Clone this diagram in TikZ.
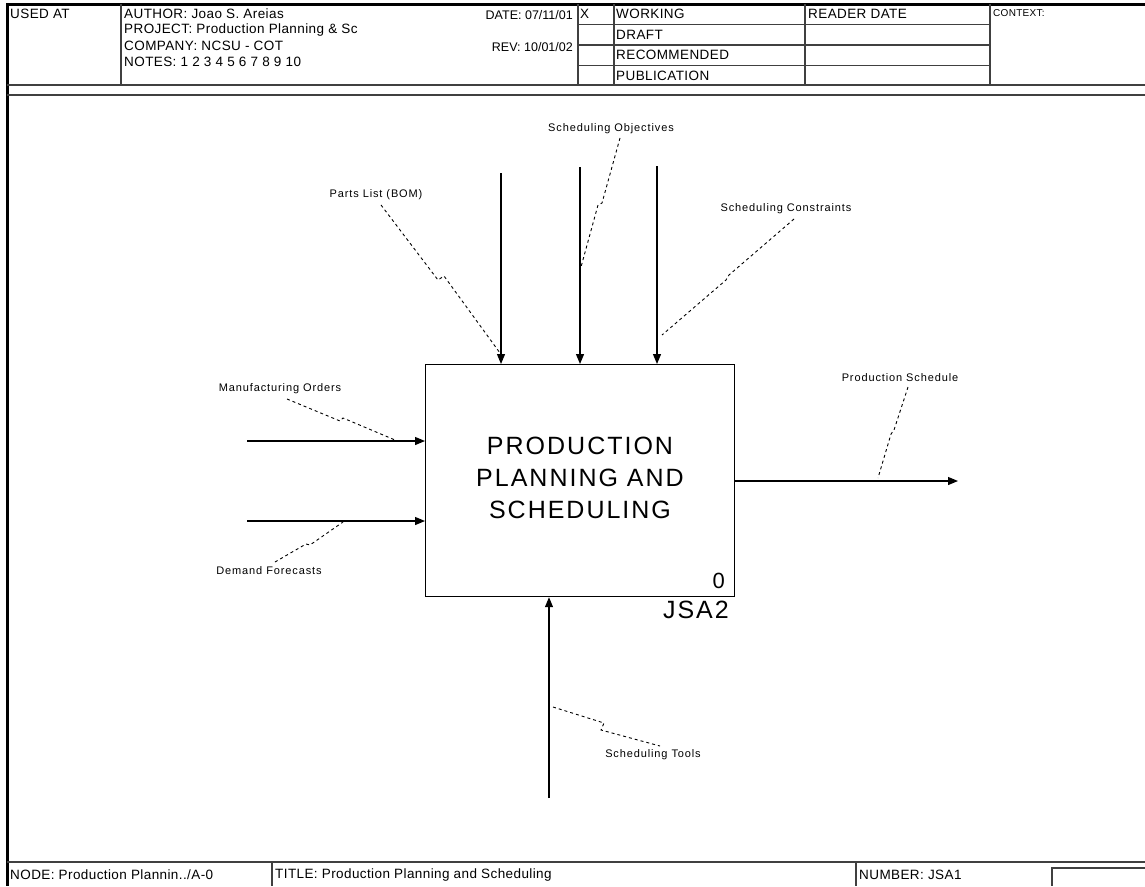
\documentclass[tikz,border=0pt]{standalone}
\usepackage{fontspec}
\setmainfont{Liberation Sans}
\newfontfamily\hdrfont[LetterSpace=3]{Liberation Sans}
\newfontfamily\lblfont[LetterSpace=8]{Liberation Sans}
\newfontfamily\bxfont[LetterSpace=8]{Liberation Sans}
\usetikzlibrary{arrows.meta}
\begin{document}
\begin{tikzpicture}[x=1pt,y=-1pt,
  hdr/.style={font=\hdrfont\fontsize{13.5}{13.5}\selectfont, anchor=west, inner sep=0pt},
  lbl/.style={font=\lblfont\fontsize{11}{11}\selectfont, inner sep=0pt},
  flow/.style={draw=black, line width=1.2pt, -{Triangle[length=10pt,width=8pt]}},
  squig/.style={draw=black, line width=0.9pt, dash pattern=on 3pt off 3pt},
  rule/.style={draw=black!75, line width=1.3pt},
  framerule/.style={draw=black, line width=3pt}]
\useasboundingbox (0,0) rectangle (1145,886);
\fill[white] (0,0) rectangle (1145,886);

% frame
\draw[framerule] (1145,4) -- (7,4) -- (7,886);

% header grid
\draw[rule] (7,85) -- (1145,85);
\draw[rule] (7,95) -- (1145,95);
\draw[rule] (121,4) -- (121,85);
\draw[rule] (578,4) -- (578,85);
\draw[rule] (614,4) -- (614,85);
\draw[rule] (805,4) -- (805,85);
\draw[rule] (990,4) -- (990,85);
\draw[rule] (578,24.5) -- (990,24.5);
\draw[rule] (578,45) -- (990,45);
\draw[rule] (578,65.5) -- (990,65.5);

% header texts
\node[hdr] (usedat) at (10,14) {USED AT};
\node[hdr] (author) at (124,14) {AUTHOR: Joao S. Areias};
\node[hdr] (project) at (124,30) {PROJECT: Production Planning \& Sc};
\node[hdr] (company) at (124,46) {COMPANY: NCSU - COT};
\node[hdr] (notes) at (124,62) {NOTES: 1 2 3 4 5 6 7 8 9 10};
\node[hdr, anchor=east, font=\setmainfont{Liberation Sans}\fontsize{12.5}{12.5}\selectfont] (date) at (573,15) {DATE: 07/11/01};
\node[hdr, anchor=east, font=\setmainfont{Liberation Sans}\fontsize{12.5}{12.5}\selectfont] (rev) at (573,47) {REV: 10/01/02};
\node[hdr] (xmark) at (580,14) {X};
\node[hdr] (working) at (616,14) {WORKING};
\node[hdr] (draft) at (616,35) {DRAFT};
\node[hdr] (recom) at (616,55) {RECOMMENDED};
\node[hdr] (publ) at (616,76) {PUBLICATION};
\node[hdr] (reader) at (808,14) {READER DATE};
\node[hdr, font=\hdrfont\fontsize{10}{10}\selectfont] (context) at (993,13) {CONTEXT:};

% footer
\draw[rule] (7,862) -- (1145,862);
\draw[rule] (272,862) -- (272,886);
\draw[rule] (856,862) -- (856,886);
\draw[rule] (1145,868) -- (1052,868) -- (1052,886);
\node[hdr] (nodelbl) at (10,875) {NODE: Production Plannin../A-0};
\node[hdr] (titlelbl) at (275,875) {TITLE: Production Planning and Scheduling};
\node[hdr] (numlbl) at (859,875) {NUMBER: JSA1};

% activity box
\node[draw=black, line width=1.2pt, minimum width=309pt, minimum height=232pt,
      anchor=north west, inner sep=0pt] (box) at (425,364) {};
\node[font=\bxfont\fontsize{25}{32}\selectfont, align=center, inner sep=0pt]
  (boxtext) at (580,478) {PRODUCTION\\PLANNING AND\\SCHEDULING};
\node[font=\bxfont\fontsize{22}{22}\selectfont, anchor=south east, inner sep=0pt]
  (boxnum) at (725,589) {0};
\node[font=\bxfont\fontsize{25}{25}\selectfont, anchor=north east, inner sep=0pt]
  (boxid) at (729,601) {JSA2};

% arrow ends
\coordinate (c1) at (501,173);
\coordinate (c2) at (580,167);
\coordinate (c3) at (657,166);
\coordinate (i1) at (247,441);
\coordinate (i2) at (247,521);
\coordinate (o1) at (958,481);
\coordinate (m1) at (549,798);

\draw[flow] (c1) -- (c1 |- box.north);
\draw[flow] (c2) -- (c2 |- box.north);
\draw[flow] (c3) -- (c3 |- box.north);
\draw[flow] (i1) -- (i1 -| box.west);
\draw[flow] (i2) -- (i2 -| box.west);
\draw[flow] (o1 -| box.east) -- (o1);
\draw[flow] (m1) -- (m1 |- box.south);

% labels
\node[lbl] (lobj) at (611,129) {Scheduling Objectives};
\node[lbl] (lbom) at (376,195) {Parts List (BOM)};
\node[lbl] (lcon) at (786,209) {Scheduling Constraints};
\node[lbl] (lmfg) at (280,389) {Manufacturing Orders};
\node[lbl] (ldem) at (269,571) {Demand Forecasts};
\node[lbl] (lps) at (900,378) {Production Schedule};
\node[lbl] (ltools) at (653,755) {Scheduling Tools};

% squiggles
\draw[squig] (381,205) -- (438,280) -- (444,276) -- (500,353);
\draw[squig] (620,138) -- (602,203) -- (598,205) -- (581,267);
\draw[squig] (794,219) -- (729,275) -- (726,280) -- (662,335);
\draw[squig] (287,399) -- (340,421) -- (343,418) -- (395,440);
\draw[squig] (275,562) -- (306,544) -- (310,545) -- (343,522);
\draw[squig] (908,387) -- (894,430) -- (891,434) -- (878,478);
\draw[squig] (553,707) -- (604,723) -- (601,730) -- (660,746);
\end{tikzpicture}
\end{document}
